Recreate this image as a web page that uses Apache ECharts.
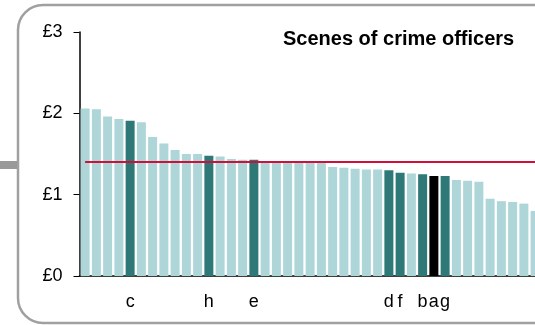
<!DOCTYPE html>
<html>
<head>
<meta charset="utf-8">
<script src="https://cdn.jsdelivr.net/npm/echarts@6/dist/echarts.min.js"></script>
<style>html,body{margin:0;padding:0;background:#fff}#c{width:535px;height:325px}</style>
</head>
<body>
<div id="c"></div>
<script>
var categories = ['','','','','c','','','','','','','h','','','','e','','','','','','','','','','','','d','f','','b','a','g','','','','','','','',''];
var values = [2.06,2.05,1.96,1.93,1.91,1.89,1.71,1.63,1.55,1.50,1.50,1.48,1.47,1.44,1.43,1.43,1.40,1.40,1.39,1.39,1.39,1.39,1.34,1.33,1.32,1.31,1.31,1.30,1.27,1.26,1.25,1.23,1.23,1.18,1.17,1.16,0.95,0.92,0.91,0.89,0.80];
var highlight = ['l','l','l','l','d','l','l','l','l','l','l','d','l','l','l','d','l','l','l','l','l','l','l','l','l','l','l','d','d','l','d','k','d','l','l','l','l','l','l','l','l'];
var benchmark = 1.41;
var yTicks = [0,1,2,3];
var titleText = 'Scenes of crime officers';

var FONT = 'Liberation Sans, Arial, sans-serif';
var colorMap = {l:'#aed5d8', d:'#2f7878', k:'#000000'};
var chart = echarts.init(document.getElementById('c'), null, {renderer:'canvas'});
chart.setOption({
  animation:false,
  textStyle:{fontFamily:FONT},
  graphic:[
    {type:'rect', z:0, shape:{x:18,y:5,width:540,height:318,r:25}, style:{fill:'#fff',stroke:'#a0a0a0',lineWidth:2.5}},
    {type:'rect', z:0, shape:{x:0,y:161,width:17,height:8}, style:{fill:'#999999'}}
  ],
  title:{text:titleText, left:278, top:24, textStyle:{fontFamily:FONT, fontSize:20, fontWeight:'bold', color:'#000'}},
  grid:{left:79.5, top:32, bottom:49, right:-5.75, containLabel:false, outerBoundsMode:'none'},
  xAxis:{type:'category', data:categories, axisLine:{lineStyle:{color:'#000',width:1.5}}, axisTick:{show:false},
    axisLabel:{interval:0, margin:17, color:'#000', fontSize:18, fontFamily:FONT}},
  yAxis:{type:'value', min:yTicks[0], max:yTicks[yTicks.length-1], interval:1,
    axisLine:{show:true, lineStyle:{color:'#000',width:1.5}}, axisTick:{show:true, length:6, lineStyle:{color:'#000'}},
    splitLine:{show:false},
    axisLabel:{formatter:function(v){return '£'+v;}, margin:17, color:'#000', fontSize:18, fontFamily:FONT}},
  series:[{
    type:'bar', barCategoryGap:'20%',
    data:values.map(function(v,i){return {value:v, itemStyle:{color:colorMap[highlight[i]]}};}),
    markLine:{silent:true, symbol:'none', label:{show:false}, lineStyle:{color:'#d0103a', width:2, type:'solid'},
      data:[[{xAxis:0, yAxis:benchmark},{xAxis:categories.length-1, yAxis:benchmark}]]}
  }]
});
</script>
</body>
</html>
